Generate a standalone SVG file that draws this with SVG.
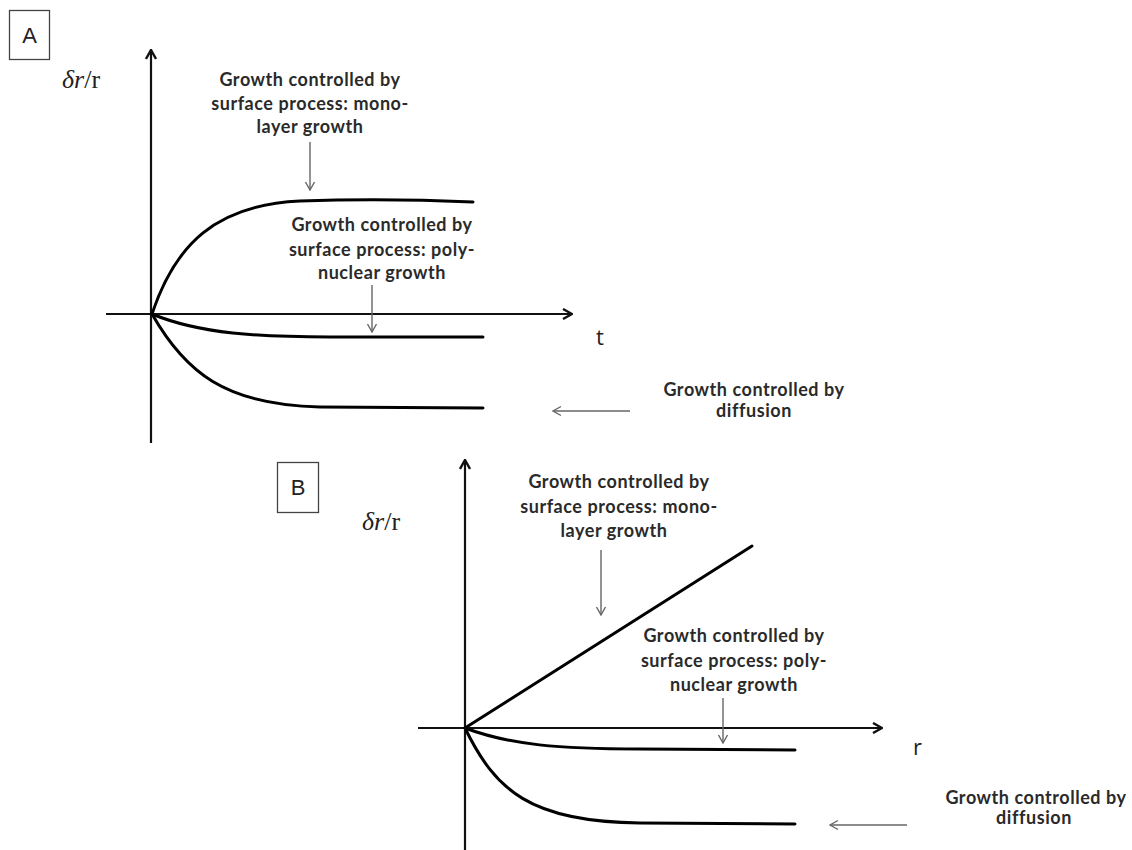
<svg xmlns="http://www.w3.org/2000/svg" width="1132" height="850" viewBox="0 0 1132 850">
<defs>
<style>
.lbl{font-family:Lato,"Liberation Sans",sans-serif;font-weight:700;font-size:18px;letter-spacing:0.55px;fill:#2a2a2a;text-anchor:middle}
.ax{stroke:#111;stroke-width:2.2;fill:none}
.cv{stroke:#000;stroke-width:3;fill:none;stroke-linecap:round}
.an{stroke:#666;stroke-width:1.4;fill:none}
.box{fill:#fff;stroke:#444;stroke-width:1.3}
.let{font-family:"Liberation Sans",Arial,sans-serif;font-size:22px;fill:#222;text-anchor:middle}
.axl{font-family:"Open Sans","Liberation Sans",sans-serif;font-size:22px;fill:#222}
.yl{font-family:"Liberation Serif","DejaVu Serif",serif;font-size:26px;fill:#222}
</style>
<marker id="ah" viewBox="0 0 12 12" refX="11" refY="6" markerWidth="12" markerHeight="12" markerUnits="userSpaceOnUse" orient="auto">
<path d="M2,1 L11,6 L2,11" fill="none" stroke="#111" stroke-width="2.4"/>
</marker>
<marker id="ag" viewBox="0 0 10 12" refX="9" refY="6" markerWidth="10" markerHeight="12" markerUnits="userSpaceOnUse" orient="auto">
<path d="M1,1.5 L9,6 L1,10.5" fill="none" stroke="#666" stroke-width="1.4"/>
</marker>
</defs>
<rect width="1132" height="850" fill="#fff"/>

<g id="panelA-label">
<rect class="box" x="9.5" y="10.5" width="40" height="49"/>
<text class="let" x="29.5" y="43">A</text>
</g>
<g id="panelA-ylabel">
<text class="yl" x="62" y="88"><tspan font-style="italic">δr</tspan>/r</text>
</g>
<g id="panelA-xlabel">
<text class="axl" x="596" y="345">t</text>
</g>

<g id="panelA-axes">
<line class="ax" x1="151" y1="443" x2="151" y2="50" marker-end="url(#ah)"/>
<line class="ax" x1="106" y1="314" x2="572" y2="314" marker-end="url(#ah)"/>
</g>

<g id="panelA-curves">
<path id="A-mono" class="cv" d="M152,314 C175,245 215,205 300,201 C380,198 430,200 473,202"/>
<path id="A-poly" class="cv" d="M152,314 C200,334 260,337 330,337 L483,337"/>
<path id="A-diff" class="cv" d="M152,314 C185,372 225,405 320,407 L483,408"/>
</g>

<g id="A-mono-note">
<text class="lbl" x="310" y="86">Growth controlled by</text>
<text class="lbl" x="310" y="110">surface process: mono-</text>
<text class="lbl" x="310" y="133">layer growth</text>
</g>
<g id="A-poly-note">
<text class="lbl" x="382" y="231">Growth controlled by</text>
<text class="lbl" x="382" y="256">surface process: poly-</text>
<text class="lbl" x="382" y="279">nuclear growth</text>
</g>
<g id="A-diff-note">
<text class="lbl" x="754" y="396">Growth controlled by</text>
<text class="lbl" x="754" y="417">diffusion</text>
</g>

<g id="panelB-label">
<rect class="box" x="277.5" y="462.5" width="41" height="50"/>
<text class="let" x="298" y="495">B</text>
</g>
<g id="panelB-ylabel">
<text class="yl" x="362" y="530"><tspan font-style="italic">δr</tspan>/r</text>
</g>
<g id="panelB-xlabel">
<text class="axl" x="913" y="755">r</text>
</g>

<g id="panelB-axes">
<line class="ax" x1="465" y1="850" x2="465" y2="460" marker-end="url(#ah)"/>
<line class="ax" x1="418" y1="728" x2="882" y2="728" marker-end="url(#ah)"/>
</g>

<g id="panelB-curves">
<path id="B-mono" class="cv" stroke-width="2.4" d="M465,728 L752,546"/>
<path id="B-poly" class="cv" d="M465,728 C510,745 560,749 640,749 L795,750"/>
<path id="B-diff" class="cv" d="M465,728 C495,790 530,822 640,823 L795,824"/>
</g>

<g id="B-mono-note">
<text class="lbl" x="619" y="488">Growth controlled by</text>
<text class="lbl" x="619" y="513">surface process: mono-</text>
<text class="lbl" x="614" y="537">layer growth</text>
</g>
<g id="B-poly-note">
<text class="lbl" x="734" y="642">Growth controlled by</text>
<text class="lbl" x="734" y="667">surface process: poly-</text>
<text class="lbl" x="734" y="691">nuclear growth</text>
</g>
<g id="B-diff-note">
<text class="lbl" x="1036" y="804">Growth controlled by</text>
<text class="lbl" x="1034" y="824">diffusion</text>
</g>

<g id="connectors">
<line class="an" x1="310" y1="142" x2="310" y2="190" marker-end="url(#ag)"/>
<line class="an" x1="372" y1="285" x2="372" y2="332" marker-end="url(#ag)"/>
<line class="an" x1="630" y1="411" x2="553" y2="411" marker-end="url(#ag)"/>
<line class="an" x1="601" y1="550" x2="601" y2="615" marker-end="url(#ag)"/>
<line class="an" x1="723" y1="698" x2="723" y2="743" marker-end="url(#ag)"/>
<line class="an" x1="907" y1="825" x2="830" y2="825" marker-end="url(#ag)"/>
</g>
</svg>
